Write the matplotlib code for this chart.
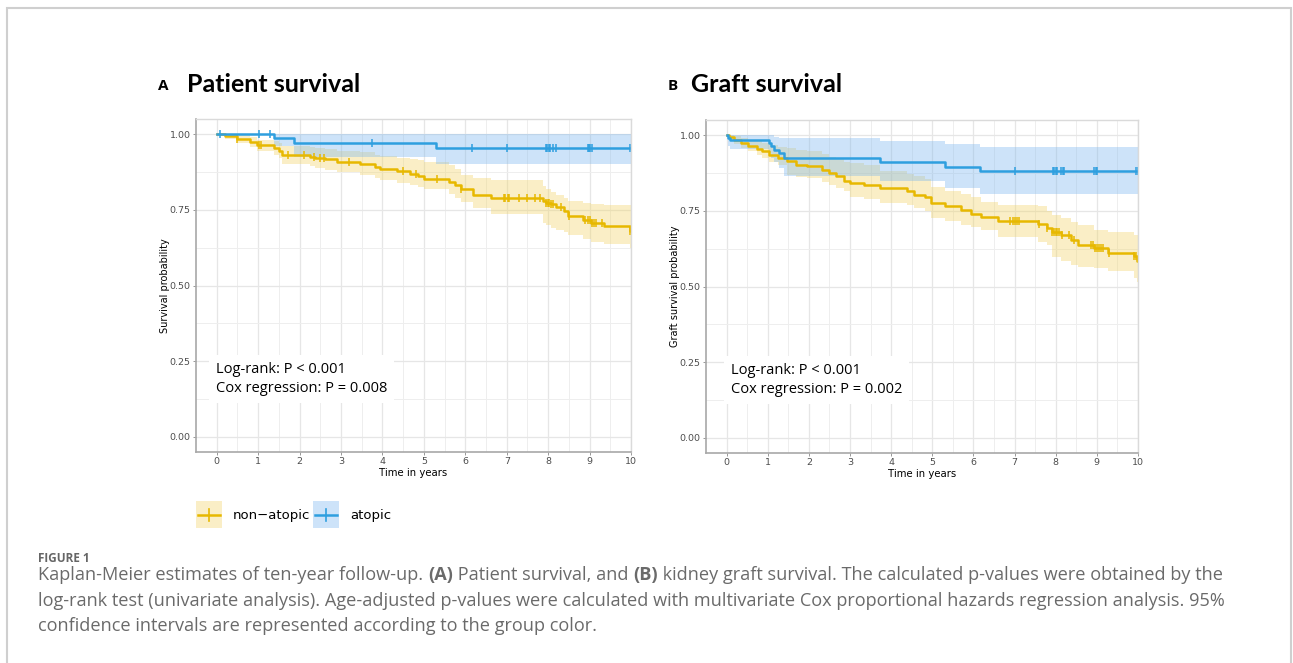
import numpy as np
import matplotlib
matplotlib.use("Agg")
import matplotlib.pyplot as plt
from matplotlib.patches import Rectangle
from matplotlib.lines import Line2D

# ---------------------------------------------------------------
# DATA
# ---------------------------------------------------------------
# A: patient survival, non-atopic
a_non_t = [0, 0.2, 0.5, 0.8, 0.97, 1.38, 1.5, 1.58, 2.26, 2.38, 2.62, 2.9, 3.47, 3.83,
           3.95, 4.35, 4.67, 4.85, 5.01, 5.6, 5.75, 5.9, 6.18, 6.62, 7.87, 7.95, 8.07,
           8.2, 8.39, 8.47, 8.83, 9.03, 9.36, 9.97, 10]
a_non_s = [1.0, 0.993, 0.985, 0.975, 0.963, 0.955, 0.945, 0.932, 0.926, 0.921, 0.917,
           0.909, 0.903, 0.892, 0.886, 0.878, 0.869, 0.862, 0.852, 0.842, 0.832, 0.82,
           0.798, 0.789, 0.778, 0.772, 0.768, 0.76, 0.745, 0.728, 0.716, 0.705, 0.695,
           0.68, 0.68]
a_non_hi = [1.0, 1.0, 0.997, 0.99, 0.982, 0.976, 0.97, 0.962, 0.957, 0.953, 0.95, 0.944,
            0.94, 0.932, 0.928, 0.922, 0.919, 0.915, 0.908, 0.897, 0.885, 0.864, 0.855,
            0.847, 0.83, 0.82, 0.808, 0.8, 0.79, 0.78, 0.772, 0.768, 0.765, 0.765, 0.765]
a_non_lo = [1.0, 0.985, 0.972, 0.958, 0.944, 0.932, 0.92, 0.903, 0.895, 0.888, 0.883,
            0.875, 0.866, 0.855, 0.847, 0.838, 0.831, 0.825, 0.82, 0.803, 0.79, 0.775,
            0.757, 0.737, 0.705, 0.7, 0.69, 0.682, 0.676, 0.668, 0.655, 0.645, 0.637,
            0.625, 0.625]
a_non_cens = [0.5, 1.03, 1.08, 1.72, 2.1, 2.35, 2.5, 2.6, 3.2, 4.5, 4.8, 5.32, 5.9,
              6.93, 6.97, 7.02, 7.05, 7.3, 7.5, 7.68, 7.8, 7.95, 8.0, 8.03, 8.08, 8.12,
              8.3, 8.5, 8.9, 8.95, 9.0, 9.05, 9.1, 9.15, 9.3, 9.98]

# A: patient survival, atopic
a_at_t = [0, 1.39, 1.86, 5.29, 10]
a_at_s = [1.0, 0.988, 0.972, 0.955, 0.955]
a_at_hi = [1.0, 1.0, 1.0, 1.0, 1.0]
a_at_lo = [1.0, 0.96, 0.925, 0.90, 0.90]
a_at_cens = [0.08, 1.03, 1.28, 3.76, 6.17, 7.0, 7.95, 7.98, 8.02, 8.05, 8.12, 8.18,
             8.95, 8.98, 9.02, 9.05, 9.98]

# B: graft survival, non-atopic
b_non_t = [0, 0.05, 0.19, 0.35, 0.51, 0.75, 0.87, 1.03, 1.24, 1.48, 1.68, 1.96, 2.33,
           2.49, 2.65, 2.85, 3.01, 3.34, 3.74, 4.39, 4.55, 4.83, 4.97, 5.30, 5.70, 5.94,
           6.19, 6.59, 7.56, 7.80, 7.92, 8.13, 8.37, 8.53, 8.93, 9.26, 9.90, 9.98, 10]
b_non_s = [1.0, 0.993, 0.985, 0.974, 0.963, 0.955, 0.946, 0.935, 0.924, 0.913, 0.902,
           0.897, 0.886, 0.875, 0.864, 0.847, 0.842, 0.836, 0.825, 0.814, 0.803, 0.794,
           0.775, 0.765, 0.754, 0.74, 0.73, 0.717, 0.706, 0.692, 0.681, 0.67, 0.653,
           0.637, 0.626, 0.61, 0.60, 0.583, 0.583]
b_non_hi = [1.0, 1.0, 0.998, 0.99, 0.985, 0.98, 0.975, 0.968, 0.962, 0.957, 0.952,
            0.946, 0.937, 0.928, 0.922, 0.912, 0.908, 0.9, 0.88, 0.87, 0.864, 0.855,
            0.83, 0.814, 0.805, 0.797, 0.78, 0.77, 0.765, 0.748, 0.737, 0.725, 0.712,
            0.704, 0.687, 0.68, 0.67, 0.67, 0.67]
b_non_lo = [1.0, 0.985, 0.97, 0.957, 0.946, 0.935, 0.924, 0.912, 0.9, 0.869, 0.862,
            0.858, 0.845, 0.836, 0.825, 0.814, 0.797, 0.79, 0.776, 0.77, 0.76, 0.748,
            0.725, 0.715, 0.704, 0.695, 0.687, 0.665, 0.648, 0.637, 0.598, 0.585, 0.57,
            0.565, 0.56, 0.55, 0.527, 0.516, 0.516]
b_non_cens = [6.9, 6.95, 7.0, 7.05, 7.1, 7.6, 7.8, 7.92, 7.96, 8.0, 8.04, 8.08, 8.16,
              8.33, 8.45, 8.85, 8.9, 8.95, 9.0, 9.05, 9.1, 9.14, 9.3, 9.9, 9.95]

# B: graft survival, atopic
b_at_t = [0, 0.04, 0.08, 1.03, 1.09, 1.15, 1.28, 1.40, 3.74, 5.30, 6.15, 10]
b_at_s = [1.0, 0.992, 0.985, 0.974, 0.963, 0.952, 0.94, 0.924, 0.911, 0.894, 0.88, 0.88]
b_at_hi = [1.0, 1.0, 1.0, 1.0, 1.0, 0.995, 0.99, 0.99, 0.98, 0.971, 0.96, 0.96]
b_at_lo = [1.0, 0.965, 0.955, 0.94, 0.925, 0.91, 0.89, 0.864, 0.847, 0.825, 0.805, 0.805]
b_at_cens = [7.0, 7.93, 7.97, 8.01, 8.04, 8.13, 8.17, 8.21, 8.93, 8.97, 9.01, 9.95, 9.99]

groups = ["non\u2212atopic", "atopic"]
colors = ["#E7B800", "#2E9FDF"]
band_colors = ["#F3D46A", "#7DB7F0"]

panels = [
    ("A", "Patient survival", "Survival probability", "Cox regression: P = 0.008",
     [(a_non_t, a_non_s, a_non_hi, a_non_lo, a_non_cens),
      (a_at_t, a_at_s, a_at_hi, a_at_lo, a_at_cens)]),
    ("B", "Graft survival", "Graft survival probability", "Cox regression: P = 0.002",
     [(b_non_t, b_non_s, b_non_hi, b_non_lo, b_non_cens),
      (b_at_t, b_at_s, b_at_hi, b_at_lo, b_at_cens)]),
]

W, H = 1293, 663
fig = plt.figure(figsize=(W / 100, H / 100), dpi=100)


def fx(px):
    return px / W


def fy(py):
    return 1 - py / H


# outer frame
fig.add_artist(Rectangle((fx(7), fy(700)), fx(1291 - 7), (700 - 8) / H,
                         transform=fig.transFigure, facecolor="none",
                         edgecolor="#cfcfcf", lw=1.5))

# pixel boxes of the two panels, plus title offsets and p-value text x position
axes_boxes = [(196, 119, 631, 452, 9, 0.046), (706, 120, 1138, 453, 15, 0.058)]

for (letter, title, ylab, cox, curves), (l, t, r, b, toff, px) in zip(panels, axes_boxes):
    ax = fig.add_axes([fx(l), fy(b), fx(r - l), (b - t) / H])
    ax.set_xlim(-0.5, 10.0)
    ax.set_ylim(-0.05, 1.05)
    ax.set_xticks(range(0, 11))
    ax.set_yticks([0, 0.25, 0.5, 0.75, 1.0])
    ax.set_yticklabels(["0.00", "0.25", "0.50", "0.75", "1.00"])
    ax.set_xticks(np.arange(0.5, 10, 1), minor=True)
    ax.set_yticks([0.125, 0.375, 0.625, 0.875], minor=True)
    ax.grid(which="major", color="#e6e6e6", lw=0.9)
    ax.grid(which="minor", color="#eeeeee", lw=0.7)
    ax.set_axisbelow(True)
    ax.tick_params(which="major", length=2.5, width=0.6, color="#888888",
                   labelsize=6.8, labelcolor="#4d4d4d", pad=1.2)
    ax.tick_params(which="minor", length=0)
    for side in ["left", "bottom"]:
        ax.spines[side].set_color("#a8a8a8")
        ax.spines[side].set_linewidth(1.2)
    for side in ["top", "right"]:
        ax.spines[side].set_color("#dadada")
        ax.spines[side].set_linewidth(1.0)
    ax.set_xlabel("Time in years", fontsize=7.3, labelpad=1)
    ax.set_ylabel(ylab, fontsize=7, labelpad=0)

    for (tt, ss, hi, lo, cens), col, bcol in zip(curves, colors, band_colors):
        tt = np.array(tt)
        ss = np.array(ss)
        ax.fill_between(tt, lo, hi, step="post", color=bcol, alpha=0.38, lw=0)
        ax.step(tt, ss, where="post", color=col, lw=1.8)
        idx = np.searchsorted(tt, cens, side="right") - 1
        ax.plot(cens, ss[idx], ls="none", marker="|", ms=6, mew=1.1, color=col)

    # p-value box
    ax.text(px, 0.22, "Log-rank: P < 0.001\n" + cox, transform=ax.transAxes,
            fontsize=10.5, family="Open Sans", va="center", ha="left",
            linespacing=1.35,
            bbox=dict(facecolor="white", edgecolor="none", pad=5))

    # panel titles
    fig.text(fx(l - 38), fy(86), letter, fontsize=11, fontweight="bold",
             family="Open Sans", va="center", ha="left")
    fig.text(fx(l - toff), fy(84), title, fontsize=18, fontweight="bold",
             family="Lato", va="center", ha="left")

# legend (drawn by hand in figure pixels)
for (x0, lab), col, bcol in zip([(196, groups[0]), (313, groups[1])], colors, band_colors):
    fig.add_artist(Rectangle((fx(x0), fy(528)), fx(26), 27 / H, transform=fig.transFigure,
                             facecolor=bcol, alpha=0.38, edgecolor="none"))
    fig.add_artist(Line2D([fx(x0 + 2), fx(x0 + 24)], [fy(515), fy(515)],
                          transform=fig.transFigure, color=col, lw=1.8))
    fig.add_artist(Line2D([fx(x0 + 13), fx(x0 + 13)], [fy(509), fy(521)],
                          transform=fig.transFigure, color=col, lw=1.2))
    fig.text(fx(x0 + 37), fy(515), lab, fontsize=9.5, va="center", ha="left")

# caption
fig.text(fx(38), fy(562), "FIGURE 1", fontsize=8.5, color="#666666", fontweight="bold",
         family="Open Sans", va="baseline", ha="left")

cap_lines = [
    [("Kaplan-Meier estimates of ten-year follow-up. ", "normal"), ("(A)", "bold"),
     (" Patient survival, and ", "normal"), ("(B)", "bold"),
     (" kidney graft survival. The calculated p-values were obtained by the", "normal")],
    [("log-rank test (univariate analysis). Age-adjusted p-values were calculated with "
      "multivariate Cox proportional hazards regression analysis. 95%", "normal")],
    [("confidence intervals are represented according to the group color.", "normal")],
]
fig.canvas.draw()
renderer = fig.canvas.get_renderer()
for i, pieces in enumerate(cap_lines):
    x = fx(38)
    y = fy(580 + 25.5 * i)
    for txt, wt in pieces:
        tobj = fig.text(x, y, txt, fontsize=13.1, color="#6a6a6a", family="Open Sans",
                        fontweight=wt, va="baseline", ha="left")
        bb = tobj.get_window_extent(renderer)
        x = bb.x1 / W

fig.savefig("out.png", dpi=100)
